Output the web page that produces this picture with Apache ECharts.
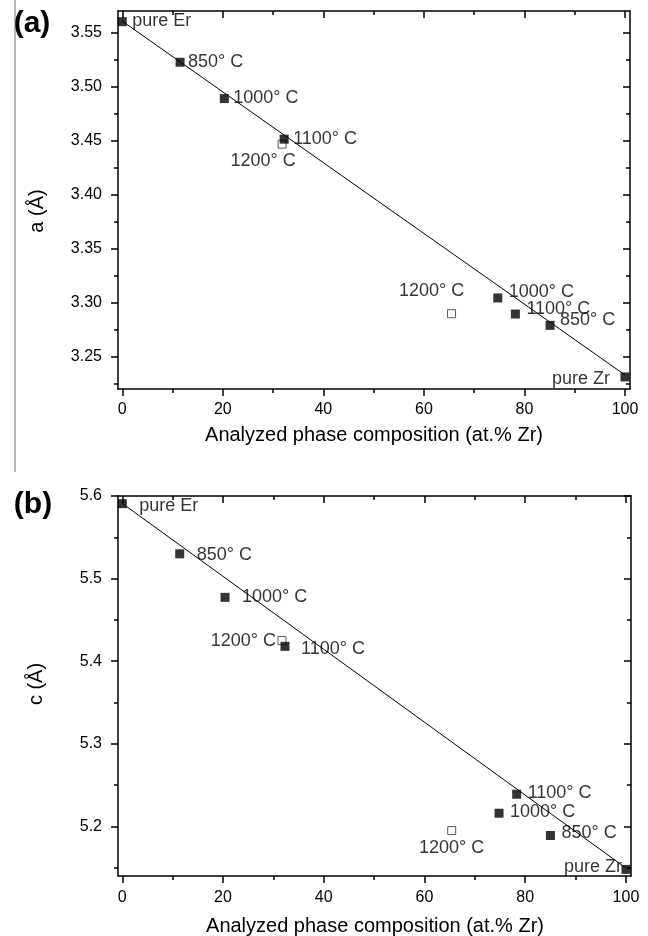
<!DOCTYPE html>
<html>
<head>
<meta charset="utf-8">
<script src="https://cdn.jsdelivr.net/npm/echarts@6/dist/echarts.min.js"></script>
<style>
html,body{margin:0;padding:0;background:#fff;}
#chart{width:648px;height:936px;}
</style>
</head>
<body>
<div id="chart"></div>
<script>
// ---------- data ----------
// panel (a): lattice parameter a (Å)
const compA = [0, 11.5, 20.3, 32.2, 74.7, 78.2, 85.1, 100];
const latticeA = [3.5605, 3.5229, 3.4892, 3.4516, 3.3044, 3.2895, 3.2790, 3.2312];
const labelsA = ['pure Er', '850° C', '1000° C', '1100° C', '1000° C', '1100° C', '850° C', 'pure Zr'];
const compA1200 = [31.8, 65.5];
const latticeA1200 = [3.4470, 3.2898];
const labelsA1200 = ['1200° C', '1200° C'];
const fitAx = [0, 100];
const fitAy = [3.561, 3.233];

// panel (b): lattice parameter c (Å)
const compB = [0, 11.4, 20.4, 32.3, 78.3, 74.8, 85.0, 100];
const latticeB = [5.5907, 5.530, 5.4773, 5.418, 5.239, 5.216, 5.189, 5.148];
const labelsB = ['pure Er', '850° C', '1000° C', '1100° C', '1100° C', '1000° C', '850° C', 'pure Zr'];
const compB1200 = [31.7, 65.4];
const latticeB1200 = [5.425, 5.195];
const labelsB1200 = ['1200° C', '1200° C'];
const fitBx = [0, 100];
const fitBy = [5.591, 5.1496];

// tick values
const xMajor = [0, 20, 40, 60, 80, 100];
const xMinor = [10, 30, 50, 70, 90];
const yMajorA = [3.25, 3.30, 3.35, 3.40, 3.45, 3.50, 3.55];
const yMinorA = [3.225, 3.275, 3.325, 3.375, 3.425, 3.475, 3.525];
const yMajorB = [5.2, 5.3, 5.4, 5.5, 5.6];
const yMinorB = [5.15, 5.25, 5.35, 5.45, 5.55];

// ---------- styling / label layout (offsets from marker centre) ----------
const labelLayoutA = [[10,-1,'left'],[8,0,'left'],[9,-1,'left'],[9,0,'left'],[11,-6,'left'],[11,-5,'left'],[10,-5,'left'],[-15,2,'right']];
const labelLayoutA1200 = [[-19,17,'center'],[-20,-23,'center']];
const labelLayoutB = [[17,2,'left'],[17,1,'left'],[17,0,'left'],[16,3,'left'],[11,-1,'left'],[11,-1,'left'],[11,-2,'left'],[-4,-2,'right']];
const labelLayoutB1200 = [[-6,0,'right'],[0,17,'center']];

const FONT = 'Liberation Sans, Arial, Helvetica, sans-serif';
const INK = '#000';

function pts(xs, ys, names, layout) {
  return xs.map((x, i) => ({
    value: [x, ys[i]],
    name: names ? names[i] : '',
    label: layout ? {offset: [layout[i][0], layout[i][1]], align: layout[i][2]} : undefined
  }));
}

function xAxes(grid, xmin, xmax, margin) {
  const base = {gridIndex: grid, type: 'value', min: xmin, max: xmax, splitLine: {show: false}};
  return [
    Object.assign({}, base, {position: 'bottom',
      axisLine: {show: true, onZero: false, lineStyle: {color: INK, width: 1.5}},
      axisTick: {show: true, customValues: xMajor, length: 7, inside: false, lineStyle: {color: INK, width: 1.5}},
      axisLabel: {show: true, customValues: xMajor, fontSize: 16, margin: margin, color: INK, fontFamily: FONT}}),
    Object.assign({}, base, {position: 'bottom',
      axisLine: {show: false, onZero: false},
      axisTick: {show: true, customValues: xMinor, length: 4, inside: false, lineStyle: {color: INK, width: 1.5}},
      axisLabel: {show: false}}),
    Object.assign({}, base, {position: 'top',
      axisLine: {show: true, onZero: false, lineStyle: {color: INK, width: 1.5}},
      axisTick: {show: true, customValues: xMajor, length: 7, inside: true, lineStyle: {color: INK, width: 1.5}},
      axisLabel: {show: false}}),
    Object.assign({}, base, {position: 'top',
      axisLine: {show: false, onZero: false},
      axisTick: {show: true, customValues: xMinor, length: 4, inside: true, lineStyle: {color: INK, width: 1.5}},
      axisLabel: {show: false}})
  ];
}

function yAxes(grid, ymin, ymax, major, minor, dec) {
  const base = {gridIndex: grid, type: 'value', min: ymin, max: ymax, splitLine: {show: false}};
  return [
    Object.assign({}, base, {position: 'left',
      axisLine: {show: true, onZero: false, lineStyle: {color: INK, width: 1.5}},
      axisTick: {show: true, customValues: major, length: 7, inside: false, lineStyle: {color: INK, width: 1.5}},
      axisLabel: {show: true, customValues: major, fontSize: 16, margin: 16, color: INK, fontFamily: FONT,
        formatter: v => Number(v).toFixed(dec)}}),
    Object.assign({}, base, {position: 'left',
      axisLine: {show: false, onZero: false},
      axisTick: {show: true, customValues: minor, length: 4, inside: false, lineStyle: {color: INK, width: 1.5}},
      axisLabel: {show: false}}),
    Object.assign({}, base, {position: 'right',
      axisLine: {show: true, onZero: false, lineStyle: {color: INK, width: 1.5}},
      axisTick: {show: true, customValues: major, length: 7, inside: true, lineStyle: {color: INK, width: 1.5}},
      axisLabel: {show: false}}),
    Object.assign({}, base, {position: 'right',
      axisLine: {show: false, onZero: false},
      axisTick: {show: true, customValues: minor, length: 4, inside: true, lineStyle: {color: INK, width: 1.5}},
      axisLabel: {show: false}})
  ];
}

const annoLabel = {show: true, position: 'inside', formatter: '{b}', fontSize: 18, color: INK,
  fontFamily: FONT, verticalAlign: 'middle'};

function panelSeries(xi, yi, xs, ys, names, layout, xs2, ys2, names2, layout2, fx, fy) {
  return [
    {type: 'line', xAxisIndex: xi, yAxisIndex: yi, data: fx.map((x, i) => [x, fy[i]]),
      showSymbol: false, symbol: 'none', lineStyle: {color: INK, width: 1}, z: 2, silent: true, clip: false},
    {type: 'scatter', xAxisIndex: xi, yAxisIndex: yi, data: pts(xs, ys, names, layout),
      symbol: 'rect', symbolSize: 9, itemStyle: {color: '#000'}, label: annoLabel, z: 4, clip: false},
    {type: 'scatter', xAxisIndex: xi, yAxisIndex: yi, data: pts(xs2, ys2, names2, layout2),
      symbol: 'rect', symbolSize: 8, itemStyle: {color: '#fff', borderColor: '#333', borderWidth: 1},
      label: annoLabel, z: 3, clip: false}
  ];
}

const chart = echarts.init(document.getElementById('chart'), null, {renderer: 'canvas'});

const option = {
  animation: false,
  backgroundColor: '#fff',
  textStyle: {fontFamily: FONT},
  grid: [
    {left: 118, right: 18, top: 11, height: 378, outerBoundsMode: 'none', containLabel: false},
    {left: 118, right: 17, top: 496, height: 380, outerBoundsMode: 'none', containLabel: false}
  ],
  xAxis: xAxes(0, -0.85, 101, 13).concat(xAxes(1, -0.85, 101, 14)),
  yAxis: yAxes(0, 3.22, 3.5704, yMajorA, yMinorA, 2).concat(yAxes(1, 5.14, 5.6, yMajorB, yMinorB, 1)),
  series: panelSeries(0, 0, compA, latticeA, labelsA, labelLayoutA, compA1200, latticeA1200, labelsA1200, labelLayoutA1200, fitAx, fitAy)
    .concat(panelSeries(4, 4, compB, latticeB, labelsB, labelLayoutB, compB1200, latticeB1200, labelsB1200, labelLayoutB1200, fitBx, fitBy)),
  graphic: [
    {type: 'line', shape: {x1: 15, y1: 0, x2: 15, y2: 472}, style: {stroke: '#888', lineWidth: 1.2}},
    {type: 'text', x: 32, y: 24, style: {text: '(a)', font: 'bold 30px ' + FONT, fill: INK, align: 'center', verticalAlign: 'middle'}},
    {type: 'text', x: 33, y: 505, style: {text: '(b)', font: 'bold 30px ' + FONT, fill: INK, align: 'center', verticalAlign: 'middle'}},
    {type: 'text', x: 37, y: 211, rotation: Math.PI / 2, style: {text: 'a (Å)', font: '20px ' + FONT, fill: INK, align: 'center', verticalAlign: 'middle'}},
    {type: 'text', x: 36, y: 684, rotation: Math.PI / 2, style: {text: 'c (Å)', font: '20px ' + FONT, fill: INK, align: 'center', verticalAlign: 'middle'}},
    {type: 'text', x: 374, y: 435, style: {text: 'Analyzed phase composition (at.% Zr)', font: '20px ' + FONT, fill: INK, align: 'center', verticalAlign: 'middle'}},
    {type: 'text', x: 375, y: 926, style: {text: 'Analyzed phase composition (at.% Zr)', font: '20px ' + FONT, fill: INK, align: 'center', verticalAlign: 'middle'}}
  ]
};
chart.setOption(option);
</script>
</body>
</html>
